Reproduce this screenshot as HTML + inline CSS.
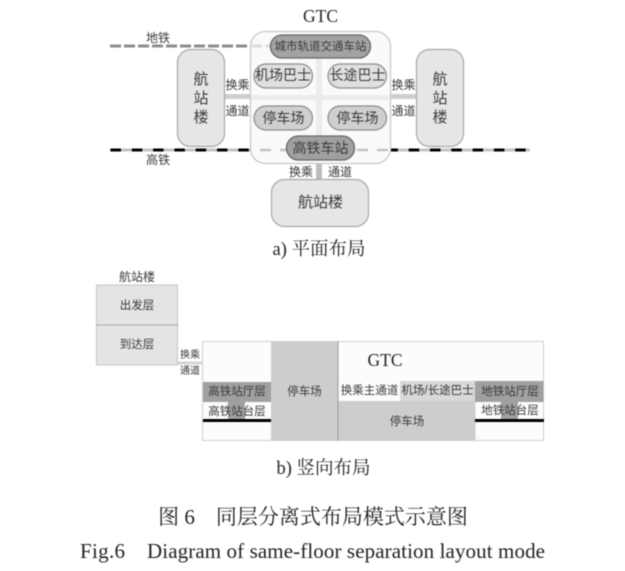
<!DOCTYPE html>
<html>
<head>
<meta charset="utf-8">
<style>
html,body{margin:0;padding:0;background:#fff;width:625px;height:571px;overflow:hidden}
svg{display:block;filter:blur(0.5px)}
text{font-family:"Liberation Serif","Noto Serif CJK SC",serif;fill:#222;text-anchor:middle}
.s{font-family:"Liberation Sans","Noto Sans CJK SC",sans-serif;fill:#3a3a3a}
</style>
</head>
<body>
<svg width="625" height="571" viewBox="0 0 625 571" xmlns="http://www.w3.org/2000/svg">
<rect width="625" height="571" fill="#fff"/>

<!-- metro line -->
<line x1="110" y1="46" x2="252" y2="46" stroke="#8c8c8c" stroke-width="3" stroke-dasharray="11 3"/>
<!-- high-speed rail line -->
<line x1="110" y1="150" x2="530" y2="150" stroke="#c4c4c4" stroke-width="3"/>
<line x1="110.500" y1="150" x2="530" y2="150" stroke="#000" stroke-width="3" stroke-dasharray="10.500 10.800"/>

<!-- channels -->
<rect x="224" y="94" width="192" height="5" fill="#cfcfcf"/>
<rect x="316" y="164" width="6" height="16" fill="#bcbcbc"/>

<!-- GTC box -->
<rect x="250.500" y="31.500" width="140" height="132" rx="15" fill="#fafafa" stroke="#c9c9c9" stroke-width="1.300"/>
<rect x="251" y="95" width="139" height="5" fill="#ececec"/>
<rect x="316" y="58" width="6" height="80" fill="#ececec"/>
<line x1="252" y1="46" x2="272" y2="46" stroke="#dcdcdc" stroke-width="3" stroke-dasharray="10 4"/>
<line x1="252" y1="150" x2="390" y2="150" stroke="#fafafa" stroke-width="3"/>
<line x1="260" y1="150" x2="288" y2="150" stroke="#c2c2c2" stroke-width="2.500" stroke-dasharray="11 9"/>
<line x1="357" y1="150" x2="388" y2="150" stroke="#c2c2c2" stroke-width="2.500" stroke-dasharray="11 9"/>

<!-- terminals -->
<rect x="177.500" y="49.500" width="47" height="97" rx="13" fill="#e6e6e6" stroke="#a8a8a8" stroke-width="1.200"/>
<rect x="416.500" y="49.500" width="47" height="97" rx="13" fill="#e6e6e6" stroke="#a8a8a8" stroke-width="1.200"/>
<rect x="271.500" y="179.500" width="97" height="47" rx="13" fill="#e6e6e6" stroke="#a8a8a8" stroke-width="1.200"/>

<!-- pills -->
<rect x="270.500" y="35" width="100" height="23" rx="11.500" fill="#a3a3a3" stroke="#686868" stroke-width="1.300"/>
<rect x="254" y="64" width="58.500" height="24" rx="12" fill="#e0e0e0" stroke="#8c8c8c" stroke-width="1.200"/>
<rect x="328" y="64" width="58.500" height="24" rx="12" fill="#e0e0e0" stroke="#8c8c8c" stroke-width="1.200"/>
<rect x="254" y="106" width="58.500" height="24" rx="12" fill="#cfcfcf" stroke="#8c8c8c" stroke-width="1.200"/>
<rect x="328" y="106" width="58.500" height="24" rx="12" fill="#cfcfcf" stroke="#8c8c8c" stroke-width="1.200"/>
<rect x="286.500" y="136" width="68" height="24" rx="12" fill="#a0a0a0" stroke="#686868" stroke-width="1.300"/>

<!-- labels, plan -->
<text x="320.500" y="22" font-size="17.500">GTC</text>
<text class="s" x="158" y="42" font-size="12">地铁</text>
<text class="s" x="158" y="164" font-size="12">高铁</text>
<text class="s" x="320.500" y="50" font-size="11.500">城市轨道交通车站</text>
<text class="s" x="283" y="80" font-size="14">机场巴士</text>
<text class="s" x="357.500" y="80" font-size="14">长途巴士</text>
<text class="s" x="283.500" y="123" font-size="14">停车场</text>
<text class="s" x="357.500" y="123" font-size="14">停车场</text>
<text class="s" x="320.500" y="153" font-size="14">高铁车站</text>
<text class="s" x="201" y="84" font-size="15">航</text>
<text class="s" x="201" y="103" font-size="15">站</text>
<text class="s" x="201" y="122" font-size="15">楼</text>
<text class="s" x="440" y="84" font-size="15">航</text>
<text class="s" x="440" y="103" font-size="15">站</text>
<text class="s" x="440" y="122" font-size="15">楼</text>
<text class="s" x="320.500" y="207" font-size="15">航站楼</text>
<text class="s" x="237.500" y="89" font-size="12">换乘</text>
<text class="s" x="237.500" y="115" font-size="12">通道</text>
<text class="s" x="403.500" y="89" font-size="12">换乘</text>
<text class="s" x="403.500" y="115" font-size="12">通道</text>
<text class="s" x="301" y="176" font-size="12">换乘</text>
<text class="s" x="340" y="176" font-size="12">通道</text>
<text x="319" y="255" font-size="18.500">a) 平面布局</text>

<!-- vertical section: terminal -->
<rect x="96.500" y="285" width="81" height="80" fill="#e4e4e4" stroke="#c6c6c6"/>
<line x1="96" y1="325" x2="178" y2="325" stroke="#a8a8a8"/>
<rect x="178" y="361.500" width="25" height="3" fill="#d5d5d5"/>
<text class="s" x="137" y="281" font-size="12">航站楼</text>
<text class="s" x="137" y="309" font-size="11.500">出发层</text>
<text class="s" x="137" y="348" font-size="11.500">到达层</text>
<text class="s" x="190" y="358" font-size="10">换乘</text>
<text class="s" x="190" y="374" font-size="10">通道</text>

<!-- vertical section: station block -->
<rect x="202.500" y="341.500" width="341" height="99" fill="#fcfcfc" stroke="#d0d0d0"/>
<rect x="271" y="341.500" width="67" height="99" fill="#cdcdcd"/>
<line x1="338" y1="341" x2="338" y2="441" stroke="#9c9c9c"/>
<rect x="203" y="382" width="68" height="20" fill="#a0a0a0"/>
<rect x="228" y="402" width="17" height="19" fill="#a0a0a0"/>
<rect x="203" y="419" width="68" height="3" fill="#000"/>
<rect x="400" y="381" width="75" height="20" fill="#d8d8d8"/>
<rect x="338.500" y="401" width="137" height="39.500" fill="#cdcdcd"/>
<rect x="475" y="381" width="68.500" height="21" fill="#a0a0a0"/>
<rect x="501" y="402" width="17" height="18" fill="#a0a0a0"/>
<rect x="475" y="419" width="69" height="3" fill="#000"/>

<text x="385" y="366" font-size="17.500">GTC</text>
<text class="s" x="237" y="395" font-size="11.500">高铁站厅层</text>
<text class="s" x="237" y="415" font-size="11.500">高铁站台层</text>
<text class="s" x="304.500" y="395" font-size="11.500">停车场</text>
<text class="s" x="369.500" y="394" font-size="11.500">换乘主通道</text>
<text class="s" x="437.500" y="394" font-size="11.500">机场/长途巴士</text>
<text class="s" x="407" y="425" font-size="11.500">停车场</text>
<text class="s" x="510" y="395" font-size="11.500">地铁站厅层</text>
<text class="s" x="510" y="414" font-size="11.500">地铁站台层</text>

<!-- captions -->
<text x="323.500" y="474" font-size="18.500">b) 竖向布局</text>
<text x="313" y="524" font-size="21" xml:space="preserve">图 6　同层分离式布局模式示意图</text>
<text x="80" y="558" font-size="21" style="text-anchor:start" textLength="45" lengthAdjust="spacing">Fig.6</text>
<text x="147" y="558" font-size="21" style="text-anchor:start" textLength="398" lengthAdjust="spacing">Diagram of same-floor separation layout mode</text>
</svg>
</body>
</html>
